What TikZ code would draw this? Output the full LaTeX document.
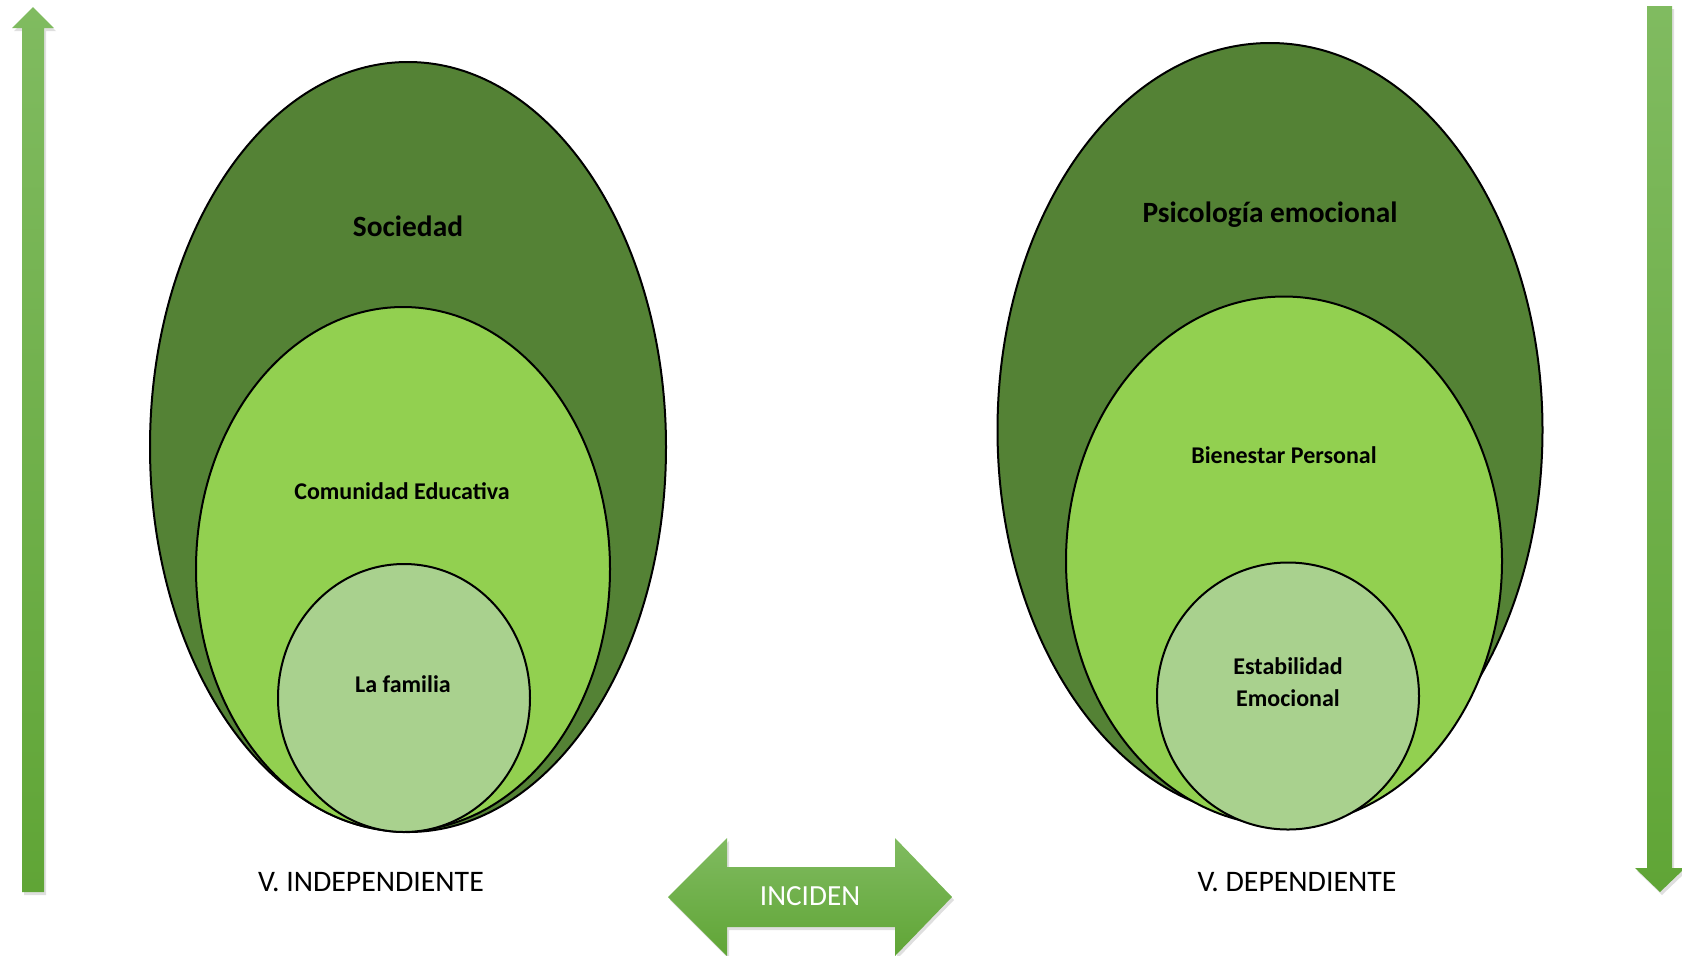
\documentclass[tikz,border=0pt]{standalone}
\usepackage{fontspec}
\setmainfont{Carlito}
\usetikzlibrary{shapes.geometric,shadows}
\definecolor{darkg}{RGB}{84,130,53}
\definecolor{midg}{RGB}{146,208,80}
\definecolor{lightg}{RGB}{169,209,142}
\definecolor{arrtop}{RGB}{128,187,96}
\definecolor{arrbot}{RGB}{96,165,54}
\tikzset{
  oval/.style={ellipse, draw=black, line width=1pt, inner sep=0pt},
  big/.style={oval, fill=darkg},
  mid/.style={oval, fill=midg},
  small/.style={oval, fill=lightg},
  lbl/.style={font=\fontsize{12}{14.5}\selectfont\bfseries, align=center, text=black},
  biglbl/.style={font=\fontsize{14.7}{17}\selectfont\bfseries, text=black},
  varlbl/.style={font=\fontsize{14.9}{17}\selectfont, text=black},
  arr/.style={top color=arrtop, bottom color=arrbot, draw=none,
    drop shadow={opacity=0.25, shadow xshift=1pt, shadow yshift=-1.5pt}},
}
\begin{document}
\begin{tikzpicture}[x=0.5pt,y=-0.5pt]
\useasboundingbox (0,0) rectangle (1682,955);
% side arrows
\path[arr] (33,7) -- (54,28) -- (44,28) -- (44,892) -- (22,892) -- (22,28) -- (12,28) -- cycle;
\path[arr] (1647,6) -- (1672,6) -- (1672,868) -- (1685,868) -- (1660,892) -- (1635,868) -- (1647,868) -- cycle;
% left ellipses
\node[big, minimum width=258pt, minimum height=385pt] (lbig) at (408,447) {};
\node[mid, minimum width=207pt, minimum height=262pt] (lmid) at (403,569) {};
\node[small, minimum width=126pt, minimum height=134pt] (lsmall) at (404,698) {};
\node[biglbl] (tsoc) at (408,226) {Sociedad};
\node[lbl] (tcom) at (402,491) {Comunidad Educativa};
\node[lbl] (tfam) at (403,684) {La familia};
% right ellipses
\node[big, minimum width=272.5pt, minimum height=387pt] (rbig) at (1270,430) {};
\node[mid, minimum width=218pt, minimum height=264.5pt] (rmid) at (1284,561) {};
\node[small, minimum width=131pt, minimum height=133.5pt] (rsmall) at (1288,696) {};
\node[biglbl] (tpsi) at (1270,215) {Psicología emocional};
\node[lbl] (tbien) at (1284,455) {Bienestar Personal};
\node[lbl, font=\fontsize{12}{16}\selectfont\bfseries] (test) at (1288,682) {Estabilidad\\Emocional};
% labels
\node[varlbl] (vind) at (371,882) {V. INDEPENDIENTE};
\node[varlbl] (vdep) at (1297,882) {V. DEPENDIENTE};
% double arrow
\path[arr] (668,897) -- (727,838) -- (727,867) -- (895,867) -- (895,838) -- (952,897) -- (895,956) -- (895,927) -- (727,927) -- (727,956) -- cycle;
\node[font=\fontsize{14.6}{16}\selectfont, text=white] (inc) at (810,896) {INCIDEN};
\end{tikzpicture}
\end{document}
